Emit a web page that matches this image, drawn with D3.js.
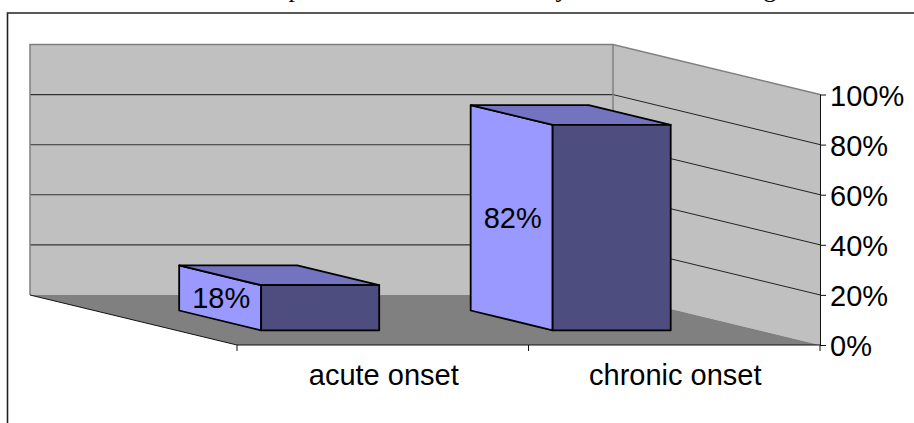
<!DOCTYPE html>
<html><head><meta charset="utf-8">
<script src="https://cdn.jsdelivr.net/npm/d3@7"></script>
<style>html,body{margin:0;padding:0;background:#fff;overflow:hidden}svg{display:block}text{font-family:"Liberation Sans",Arial,sans-serif;fill:#000}</style>
</head><body><svg id="c" width="914" height="423"></svg>
<script>
const categories = ["acute onset", "chronic onset"];
const values = [18, 82];
const valueLabels = ["18%", "82%"];
const yTicks = [0, 20, 40, 60, 80, 100];
const titleFragments = [["p", 295], ["y", 562], ["g", 770]];

const W = 914, H = 423;
const svg = d3.select("#c");
const x = d3.scaleBand().domain(categories).range([237, 820]);
const y = d3.scaleLinear().domain([0, 100]).range([345, 94.5]);
const zx = d3.scaleLinear().domain([0, 1]).range([0, -207]);
const zy = d3.scaleLinear().domain([0, 1]).range([0, -50]);
const proj = (px, v, z) => [px + zx(z), y(v) + zy(z)];
const poly = pts => d3.line()(pts) + "Z";

// clipped title remnants and frame
svg.selectAll("text.title").data(titleFragments).join("text").attr("class", "title")
  .attr("x", d => d[1]).attr("y", -3).attr("text-anchor", "middle")
  .style("font-family", '"Liberation Serif",serif').style("font-size", "26px").text(d => d[0]);
svg.append("path").attr("d", `M7.5 ${H}V13H${W}`).attr("fill", "none").attr("stroke", "#222").attr("stroke-width", 1.6);

const xL = 237, xR = 820;
// back wall, side wall, floor
svg.append("path").attr("fill", "#c0c0c0").attr("d", poly([proj(xL,0,1), proj(xR,0,1), proj(xR,100,1), proj(xL,100,1)]));
svg.append("path").attr("fill", "#c0c0c0").attr("d", poly([proj(xR,0,1), proj(xR,0,0), proj(xR,100,0), proj(xR,100,1)]));
svg.append("path").attr("fill", "#808080").attr("d", poly([proj(xL,0,1), proj(xR,0,1), proj(xR,0,0), proj(xL,0,0)]));

// gridlines
const gridTicks = yTicks.filter(t => t > 0 && t < 100);
svg.selectAll("path.gb").data(gridTicks).join("path").attr("class", "gb")
  .attr("fill", "none").attr("stroke", "#333").attr("stroke-width", 1.1)
  .attr("d", t => d3.line()([proj(xL,t,1), proj(xR,t,1)]));
svg.selectAll("path.gs").data(gridTicks).join("path").attr("class", "gs")
  .attr("fill", "none").attr("stroke", "#222").attr("stroke-width", 1)
  .attr("d", t => d3.line()([proj(xR,t,1), proj(xR,t,0)]));

// wall edges
svg.append("path").attr("fill", "none").attr("stroke", "#808080").attr("stroke-width", 1.5)
  .attr("d", d3.line()([proj(xL,0,1), proj(xL,100,1), proj(xR,100,1), proj(xR,100,0)]));
svg.append("path").attr("fill", "none").attr("stroke", "#808080").attr("stroke-width", 1.5)
  .attr("d", d3.line()([proj(xR,0,1), proj(xR,100,1)]));
// floor left edge
svg.append("path").attr("fill", "none").attr("stroke", "#111").attr("stroke-width", 1)
  .attr("d", d3.line()([proj(xL,0,1), proj(xL,0,0)]));

// bars
const padRatio = 0.2916, widthRatio = 0.405, z0 = 0.294, z1 = 0.69;
const bars = categories.map((c, i) => {
  const a = x(c) + x.bandwidth() * padRatio, b = a + x.bandwidth() * widthRatio, v = values[i];
  return {
    label: valueLabels[i],
    left: [proj(a,0,z1), proj(a,0,z0), proj(a,v,z0), proj(a,v,z1)],
    front: [proj(a,0,z0), proj(b,0,z0), proj(b,v,z0), proj(a,v,z0)],
    top: [proj(a,v,z1), proj(b,v,z1), proj(b,v,z0), proj(a,v,z0)]
  };
});
const g = svg.selectAll("g.bar").data(bars).join("g").attr("class", "bar")
  .attr("stroke", "#000").attr("stroke-width", 1.8).attr("stroke-linejoin", "round");
g.append("path").attr("fill", "#9999ff").attr("d", d => poly(d.left));
g.append("path").attr("fill", "#7373bf").attr("d", d => poly(d.top));
g.append("path").attr("fill", "#4d4d80").attr("d", d => poly(d.front));
svg.selectAll("text.val").data(bars).join("text").attr("class", "val")
  .attr("text-anchor", "middle").style("font-size", "29px")
  .attr("x", d => (d.left[0][0] + d.left[1][0]) / 2 + 1)
  .attr("y", d => (d.left[1][1] + d.left[3][1]) / 2 + 10.5)
  .text(d => d.label);

// y axis
const yAxis = d3.axisRight(y).tickValues(yTicks).tickFormat(d => d + "%").tickSize(6).tickPadding(4);
const ya = svg.append("g").attr("transform", `translate(${xR},0)`).call(yAxis);
ya.selectAll("path.domain").attr("stroke", "#111").attr("d", `M0.5 ${y(100)}V${y(0)}`);
ya.selectAll("line").attr("stroke", "#111");
ya.selectAll("text").style("font-size", "29px").style("font-family", '"Liberation Sans",Arial,sans-serif').attr("fill", "#000").attr("dy", 10.5);

// x axis: ticks on category boundaries, labels centred in bands
const xa = svg.append("g");
xa.append("path").attr("fill", "none").attr("stroke", "#111").attr("stroke-width", 1.2).attr("d", d3.line()([proj(xL,0,0), proj(xR,0,0)]));
const bounds = categories.map(c => x(c)).concat([x.range()[1]]);
xa.selectAll("line").data(bounds).join("line")
  .attr("x1", d => d).attr("x2", d => d).attr("y1", y(0)).attr("y2", y(0) + 6).attr("stroke", "#111");
xa.selectAll("text").data(categories).join("text").attr("text-anchor", "middle").style("font-size", "29px")
  .attr("x", d => x(d) + x.bandwidth() / 2 + 1).attr("y", y(0) + 40).text(d => d);
</script></body></html>
